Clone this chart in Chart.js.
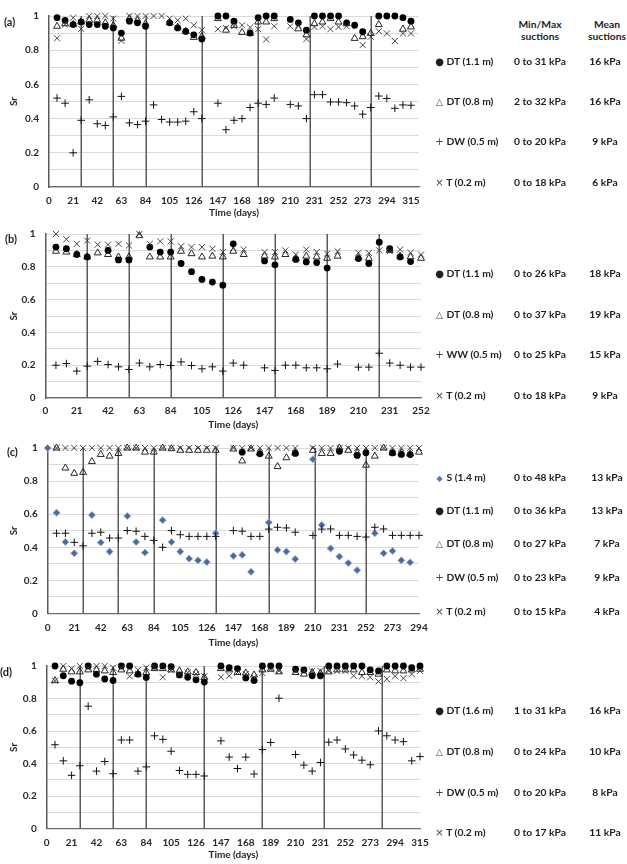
<!DOCTYPE html>
<html>
<head>
<meta charset="utf-8">
<script src="https://cdn.jsdelivr.net/npm/chart.js@4.4.1/dist/chart.umd.min.js"></script>
<style>
  body { margin: 0; background: #fff; font-family: Lato, "Open Sans", sans-serif; }
  #page { position: relative; width: 627px; height: 864px; overflow: hidden; }
  #page canvas { position: absolute; left: 0; }
  .t { position: absolute; font-weight: bold; font-size: 10.3px; color: #1e1e1e; white-space: nowrap; transform: translateY(-50%); }
  .c { transform: translate(-50%, -50%); text-align: center; }
  .tag { font-size: 11px; }
  .sym { font-family: "DejaVu Sans", sans-serif; font-weight: normal; display: inline-block; width: 9px; text-align: center; }
</style>
</head>
<body>
<div id="page">
  <canvas id="chartA" width="440" height="220" style="top:0px"></canvas>
  <canvas id="chartB" width="440" height="214" style="top:218px"></canvas>
  <canvas id="chartC" width="440" height="218" style="top:432px"></canvas>
  <canvas id="chartD" width="440" height="212" style="top:650px"></canvas>
</div>
<script>
// ---- (a) ----
const daysA = [7,14,21,28,35,42,49,56,63,70,77,84,91,98,105,112,119,126,133,147,154,161,168,175,182,189,196,210,217,224,231,238,245,252,259,266,273,280,287,294,301,308,315];
const dtDeepA = [0.99,0.975,0.95,0.965,0.95,0.95,0.94,0.93,0.90,0.97,0.96,0.94,null,null,0.96,0.93,0.91,0.89,0.865,
  1.0,1.0,0.97,null,0.90,0.99,1.0,1.0,
  0.98,0.96,0.917,1.0,1.0,1.0,1.0,0.96,0.946,0.908,null,1.0,1.0,1.0,0.99,0.97];
const dtMidA = [0.94,0.955,0.95,0.965,0.975,0.975,0.96,0.945,0.87,0.985,0.975,0.955,null,null,0.96,0.935,0.91,0.875,0.88,
  0.985,0.917,0.945,0.904,0.898,0.965,0.965,0.985,
  null,0.925,0.89,0.955,0.965,0.985,0.965,0.955,0.869,0.879,0.898,0.95,null,null,0.923,0.936];
const dwA = [0.52,0.49,0.20,0.39,0.51,0.37,0.36,0.41,0.53,0.375,0.365,0.385,0.48,0.395,0.38,0.38,0.385,0.44,0.40,
  0.49,0.335,0.39,0.40,0.465,0.49,0.483,0.52,
  0.483,0.474,0.40,0.54,0.54,0.497,0.497,0.493,0.474,0.426,0.465,0.532,0.518,0.46,0.48,0.478];
const tA = [0.87,0.95,0.99,0.925,1.0,1.0,1.0,0.985,0.855,1.0,1.0,1.0,1.0,1.0,0.985,0.975,0.985,0.946,0.917,
  0.923,0.93,0.94,0.946,0.933,0.923,0.863,0.94,
  0.94,0.945,0.865,0.936,0.94,0.923,0.936,0.94,null,0.83,0.879,0.911,0.898,0.854,0.898,0.898];
const linesA = [28,56,84,133,182,227,280];

// ---- (b) ----
const daysB = [7,14,21,28,35,42,49,56,63,70,77,84,91,98,105,112,119,126,133,147,154,161,168,175,182,189,196,210,217,224,231,238,245,252];
const dtDeepB = [0.92,0.91,0.875,0.86,null,0.90,0.842,0.842,null,0.92,0.89,0.89,0.82,0.77,0.723,0.707,0.688,0.94,null,
  0.836,0.812,null,0.845,0.83,0.826,0.792,null,
  0.85,0.82,0.95,0.91,0.86,0.832,null];
const dtMidB = [0.895,0.89,0.875,0.86,0.885,0.875,0.86,0.86,0.99,0.86,0.86,0.86,0.895,0.88,0.86,0.865,0.86,0.895,0.875,
  0.865,0.86,0.875,0.85,0.865,0.86,0.852,0.865,
  0.855,0.852,null,0.90,0.865,0.86,0.852];
const wwB = [0.20,0.21,0.164,0.194,0.223,0.204,0.19,0.174,0.213,0.19,0.204,0.198,0.22,0.198,0.178,0.19,0.164,0.213,0.20,
  0.184,0.168,0.20,0.20,0.184,0.184,0.178,0.207,
  0.188,0.188,0.273,0.213,0.20,0.188,0.188];
const tB = [1.0,0.968,0.94,0.96,0.935,0.935,0.94,0.93,1.0,0.94,0.955,0.955,0.925,0.92,0.92,0.91,0.89,0.915,0.905,
  0.89,0.89,0.90,0.875,0.905,0.89,0.88,0.895,
  0.885,0.885,0.90,0.895,0.905,0.885,0.875];
const linesB = [28,56,84,119,154,189,224];

// ---- (c) ----
const daysC = [0,7,14,21,28,35,42,49,56,63,70,77,84,91,98,105,112,119,126,133,147,154,161,168,175,182,189,196,210,217,224,231,238,245,252,259,266,273,280,287,294];
const sC = [1.0,
  0.609,0.432,0.364,null,0.595,0.429,0.374,null,0.589,0.432,0.368,null,0.564,0.432,0.374,0.331,0.321,0.311,0.485,
  0.348,0.354,0.252,null,0.55,0.384,0.374,0.329,
  0.932,0.535,0.393,0.344,0.305,0.262,null,0.485,0.364,0.378,0.321,0.309,null];
const dtDeepC = [null,
  null,null,null,null,null,null,null,null,null,null,null,null,null,null,null,null,null,null,null,
  null,0.975,null,0.965,null,null,null,0.967,
  null,null,null,0.98,null,0.955,0.971,null,null,0.97,0.961,0.96,null];
const dtMidC = [null,
  1.0,0.879,0.847,0.853,0.918,0.961,0.951,0.967,1.0,1.0,0.975,0.975,1.0,0.996,0.986,0.986,0.986,0.986,0.986,
  0.994,0.922,0.994,0.97,0.951,0.888,0.941,0.97,
  0.986,0.967,0.967,1.0,0.986,0.97,0.896,0.951,1.0,0.97,0.97,0.965,0.975];
const dwC = [null,
  0.485,0.485,0.43,0.409,0.485,0.491,0.456,0.456,0.501,0.497,0.466,0.442,0.40,0.501,0.476,0.466,0.466,0.466,0.466,
  0.501,0.497,0.466,0.466,0.51,0.521,0.517,0.491,
  0.472,0.51,0.511,0.472,0.472,0.466,0.462,0.521,0.511,0.472,0.472,0.472,0.472];
const tC = [null,
  1.0,1.0,1.0,1.0,1.0,1.0,1.0,1.0,1.0,1.0,1.0,1.0,1.0,1.0,1.0,1.0,1.0,1.0,1.0,
  1.0,1.0,1.0,1.0,1.0,1.0,1.0,1.0,
  1.0,1.0,1.0,1.0,1.0,1.0,1.0,1.0,1.0,1.0,1.0,1.0,1.0];
const linesC = [28,56,84,133,175,212,252];

// ---- (d) ----
const daysD = [7,14,21,28,35,42,49,56,63,70,77,84,91,98,105,112,119,126,133,147,154,161,168,175,182,189,196,210,217,224,231,238,245,252,259,266,273,280,287,294,301,308,315];
const dtDeepD = [1.0,0.94,0.907,0.897,1.0,0.95,0.92,0.911,1.0,1.0,0.95,0.93,1.0,1.0,0.996,0.945,0.931,0.915,0.901,
  1.0,0.99,0.984,0.927,0.911,1.0,1.0,1.0,
  0.98,0.976,0.94,0.94,1.0,1.0,1.0,1.0,1.0,0.976,0.97,1.0,1.0,1.0,0.99,1.0];
const dtMidD = [0.91,0.98,0.964,0.964,0.976,0.976,0.97,0.96,0.976,0.97,0.95,0.96,0.984,0.984,0.976,0.97,0.964,0.96,0.93,
  0.984,0.976,0.96,0.957,0.945,0.976,0.98,0.964,
  0.96,0.95,0.96,0.955,0.964,0.976,0.976,0.976,0.96,0.96,0.95,0.976,0.97,0.97,0.976,0.98];
const dwD = [0.516,0.417,0.328,0.387,0.753,0.354,0.413,0.338,0.545,0.545,0.354,0.38,0.571,0.549,0.476,0.358,0.334,0.334,0.324,
  0.54,0.44,0.37,0.44,0.336,0.486,0.53,0.802,
  0.456,0.391,0.354,0.407,0.532,0.545,0.49,0.453,0.421,0.393,0.601,0.571,0.545,0.535,0.417,0.443];
const tD = [0.91,1.0,0.984,1.0,0.99,1.0,1.0,0.99,0.99,0.937,0.976,0.99,0.99,0.931,0.976,0.95,0.96,0.95,0.937,
  0.931,0.94,0.96,0.95,0.931,0.957,0.98,0.97,
  0.97,0.97,0.97,0.97,0.97,0.97,0.97,0.94,0.937,0.931,0.905,0.92,0.937,0.925,0.95,0.97];
const linesD = [28,56,84,133,182,234,283];

// legend tables
const namesA = ['DT (1.1 m)', 'DT (0.8 m)', 'DW (0.5 m)', 'T (0.2 m)'];
const rangeA = ['0 to 31 kPa', '2 to 32 kPa', '0 to 20 kPa', '0 to 18 kPa'];
const meanA = ['16 kPa', '16 kPa', '9 kPa', '6 kPa'];
const namesB = ['DT (1.1 m)', 'DT (0.8 m)', 'WW (0.5 m)', 'T (0.2 m)'];
const rangeB = ['0 to 26 kPa', '0 to 37 kPa', '0 to 25 kPa', '0 to 18 kPa'];
const meanB = ['18 kPa', '19 kPa', '15 kPa', '9 kPa'];
const namesC = ['S (1.4 m)', 'DT (1.1 m)', 'DT (0.8 m)', 'DW (0.5 m)', 'T (0.2 m)'];
const rangeC = ['0 to 48 kPa', '0 to 36 kPa', '0 to 27 kPa', '0 to 23 kPa', '0 to 15 kPa'];
const meanC = ['13 kPa', '13 kPa', '7 kPa', '9 kPa', '4 kPa'];
const namesD = ['DT (1.6 m)', 'DT (0.8 m)', 'DW (0.5 m)', 'T (0.2 m)'];
const rangeD = ['1 to 31 kPa', '0 to 24 kPa', '0 to 20 kPa', '0 to 17 kPa'];
const meanD = ['16 kPa', '10 kPa', '8 kPa', '11 kPa'];

// marker styles
const styleS = { pointStyle: 'rectRot', pointRadius: 3.6, backgroundColor: '#4b6b9e', borderColor: '#a3b9dc', borderWidth: 0.8, order: 4 };
const styleDeep = { pointStyle: 'circle', pointRadius: 3.4, backgroundColor: '#000', borderColor: '#000', borderWidth: 0, order: 3 };
const styleMid = { pointStyle: 'triangle', pointRadius: 4, backgroundColor: 'rgba(0,0,0,0)', borderColor: '#111', borderWidth: 0.9, order: 2 };
const styleDw = { pointStyle: 'cross', pointRadius: 3.8, backgroundColor: '#000', borderColor: '#111', borderWidth: 1, order: 1 };
const styleT = { pointStyle: 'crossRot', pointRadius: 4.3, backgroundColor: '#333', borderColor: '#333', borderWidth: 0.9, order: 0 };

Chart.defaults.font.family = 'Lato, "Open Sans", sans-serif';
Chart.defaults.font.weight = 'bold';
Chart.defaults.font.size = 10;
Chart.defaults.color = '#262626';

// vertical event lines, placed with the chart's own scales
const eventLines = {
    id: 'eventLines',
    beforeDatasetsDraw(chart, args, opts) {
        const { ctx, scales } = chart;
        ctx.save();
        ctx.strokeStyle = '#5a5a5a';
        ctx.lineWidth = 1.5;
        (opts.days || []).forEach(d => {
            const x = Math.round(scales.x.getPixelForValue(d)) + 0.25;
            ctx.beginPath();
            ctx.moveTo(x, scales.y.getPixelForValue(0));
            ctx.lineTo(x, scales.y.getPixelForValue(1));
            ctx.stroke();
        });
        ctx.restore();
    }
};

function toPoints(days, values) {
    return days.map((d, i) => ({ x: d, y: values[i] }));
}

function makePanel(id, days, series, lines, xMax, box) {
    const ctx = document.getElementById(id).getContext('2d');
    new Chart(ctx, {
        type: 'scatter',
        data: {
            datasets: series.map(s => Object.assign({ data: toPoints(days, s.values), clip: false }, s.style))
        },
        options: {
            responsive: false,
            animation: false,
            devicePixelRatio: 1,
            layout: { padding: { left: 0, right: box.right, top: box.top, bottom: 0 } },
            plugins: {
                legend: { display: false },
                tooltip: { enabled: false },
                eventLines: { days: lines }
            },
            scales: {
                x: {
                    type: 'linear', min: 0, max: xMax,
                    afterFit: s => { s.height = box.xh; },
                    grid: { display: false, drawTicks: false },
                    border: { color: '#6b6b6b', width: 1.3 },
                    ticks: { stepSize: 21, includeBounds: false, autoSkip: false, maxRotation: 0, padding: box.tickPad },
                    title: { display: true, text: 'Time (days)', padding: { top: 0, bottom: 1 } }
                },
                y: {
                    min: 0, max: 1,
                    afterFit: s => { s.width = box.left; },
                    grid: { color: '#dadada', lineWidth: 1, drawTicks: false },
                    border: { color: '#5a5a5a', width: 1.5 },
                    ticks: {
                        stepSize: 0.1, autoSkip: false, padding: 10,
                        callback: v => {
                            const k = Math.round(v * 10);
                            if (k % 2) return '';
                            return k === 0 ? '0' : (k === 10 ? '1' : (k / 10).toFixed(1));
                        }
                    },
                    title: { display: true, text: 'Sr', padding: { top: 8, bottom: 0 } }
                }
            }
        },
        plugins: [eventLines]
    });
}

makePanel('chartA', daysA, [
    { values: dtDeepA, style: styleDeep },
    { values: dtMidA, style: styleMid },
    { values: dwA, style: styleDw },
    { values: tA, style: styleT }
], linesA, 322, { left: 49, right: 21, top: 14, xh: 33, tickPad: 8 });

makePanel('chartB', daysB, [
    { values: dtDeepB, style: styleDeep },
    { values: dtMidB, style: styleMid },
    { values: wwB, style: styleDw },
    { values: tB, style: styleT }
], linesB, 252, { left: 45.5, right: 19, top: 11, xh: 34, tickPad: 7 });

makePanel('chartC', daysC, [
    { values: sC, style: styleS },
    { values: dtDeepC, style: styleDeep },
    { values: dtMidC, style: styleMid },
    { values: dwC, style: styleDw },
    { values: tC, style: styleT }
], linesC, 294, { left: 47.7, right: 21, top: 10.5, xh: 36.5, tickPad: 8 });

makePanel('chartD', daysD, [
    { values: dtDeepD, style: styleDeep },
    { values: dtMidD, style: styleMid },
    { values: dwD, style: styleDw },
    { values: tD, style: styleT }
], linesD, 315, { left: 46.7, right: 20, top: 10, xh: 33.3, tickPad: 8 });

// text outside the plots
const page = document.getElementById('page');
function addText(html, x, y, cls) {
    const el = document.createElement('div');
    el.className = 't ' + (cls || '');
    el.style.left = x + 'px';
    el.style.top = y + 'px';
    el.innerHTML = html;
    page.appendChild(el);
}

const symDeep = '<span class="sym" style="font-size:10px">●</span>';
const symMid = '<span class="sym" style="font-size:9px;color:#444">△</span>';
const symDw = '<span class="sym" style="font-size:10px;color:#444">+</span>';
const symT = '<span class="sym" style="font-size:10px;color:#444">×</span>';
const symS = '<span class="sym" style="font-size:8px;color:#5a7bb0">◆</span>';

function addTable(symbols, names, ranges, means, rows, meanX) {
    names.forEach((n, i) => {
        addText(symbols[i] + ' ' + n, 435, rows[i]);
        addText(ranges[i], 540, rows[i], 'c');
        addText(means[i], meanX, rows[i], 'c');
    });
}

addText('Min/Max', 540, 24, 'c');
addText('suctions', 540, 36, 'c');
addText('Mean', 607, 24, 'c');
addText('suctions', 607, 36, 'c');

addTable([symDeep, symMid, symDw, symT], namesA, rangeA, meanA, [61, 101, 141, 182], 605);
addTable([symDeep, symMid, symDw, symT], namesB, rangeB, meanB, [273, 314, 354, 395], 605);
addTable([symS, symDeep, symMid, symDw, symT], namesC, rangeC, meanC, [477, 510, 543, 577, 611], 607);
addTable([symDeep, symMid, symDw, symT], namesD, rangeD, meanD, [710, 751, 792, 832], 605);

addText('(a)', 4, 21, 'tag');
addText('(b)', 5, 238, 'tag');
addText('(c)', 7, 451, 'tag');
addText('(d)', 0, 671, 'tag');
</script>
</body>
</html>
